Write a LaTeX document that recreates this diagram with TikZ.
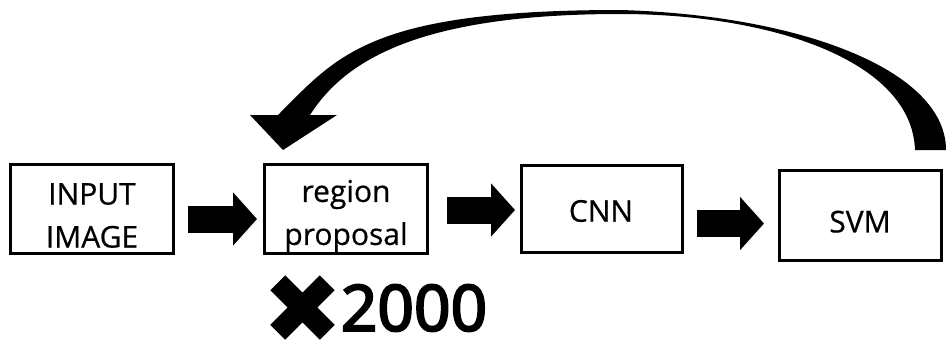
\documentclass[tikz,border=0pt]{standalone}
\usepackage{fontspec}
\setmainfont[FakeBold=0.6]{Open Sans}
\newfontfamily\countfont[FakeBold=3]{Noto Sans}
\usetikzlibrary{arrows.meta}
\begin{document}
\begin{tikzpicture}[x=1pt,y=-1pt,
  box/.style={draw, line width=3.2pt, inner sep=0pt},
  lbl/.style={font=\fontsize{30}{43}\selectfont, align=center, inner sep=0pt},
  blockarrow/.style={line width=27pt, -{Triangle[length=24pt,width=52pt]}}]
\useasboundingbox (0,0) rectangle (946,341);

% stage boxes
\node[box, minimum width=162.8pt, minimum height=88.8pt] (in)  at (92,209)    {};
\node[box, minimum width=162.8pt, minimum height=88.8pt] (rp)  at (346,209)   {};
\node[box, minimum width=160.8pt, minimum height=86.8pt] (cnn) at (602,209)   {};
\node[box, minimum width=161.8pt, minimum height=89.8pt] (svm) at (860.5,215.5) {};

% stage labels
\node[lbl] (inlbl)  at (92,215.5)  {INPUT\\IMAGE};
\node[lbl] (rplbl)  at (346,216)   {region\\proposal};
\node[lbl] (cnnlbl) at (601,211)   {CNN};
\node[lbl] (svmlbl) at (860,221.7) {SVM};

% forward block arrows
\draw[blockarrow, shorten <=13pt, shorten >=6pt]  (in.east |- 0,219)    -- (rp.west |- 0,219);
\draw[blockarrow, shorten <=18pt, shorten >=5pt]  (rp.east |- 0,210)    -- (cnn.west |- 0,210);
\draw[blockarrow, shorten <=13pt, shorten >=14pt] (cnn.east |- 0,223.5) -- (svm.west |- 0,223.5);

% tapered feedback arrow from SVM back to region proposal
\fill (946,150) .. controls (946,70) and (800,15) .. (620,10)
      .. controls (370,10) and (338,55) .. (278,115)
      -- (250,115) -- (283,150) -- (337,115) -- (310,115)
      .. controls (345,60) and (420,14) .. (620,14)
      .. controls (770,14) and (912,60) .. (915,150) -- cycle;

% repetition mark
\draw[line width=21pt] (277.75,282.75) -- (327.25,332.25)
                       (327.25,282.75) -- (277.75,332.25);
\node[font=\fontsize{64}{76}\selectfont\countfont, inner sep=0pt] (count) at (414,308)
  {2000};
\end{tikzpicture}
\end{document}
